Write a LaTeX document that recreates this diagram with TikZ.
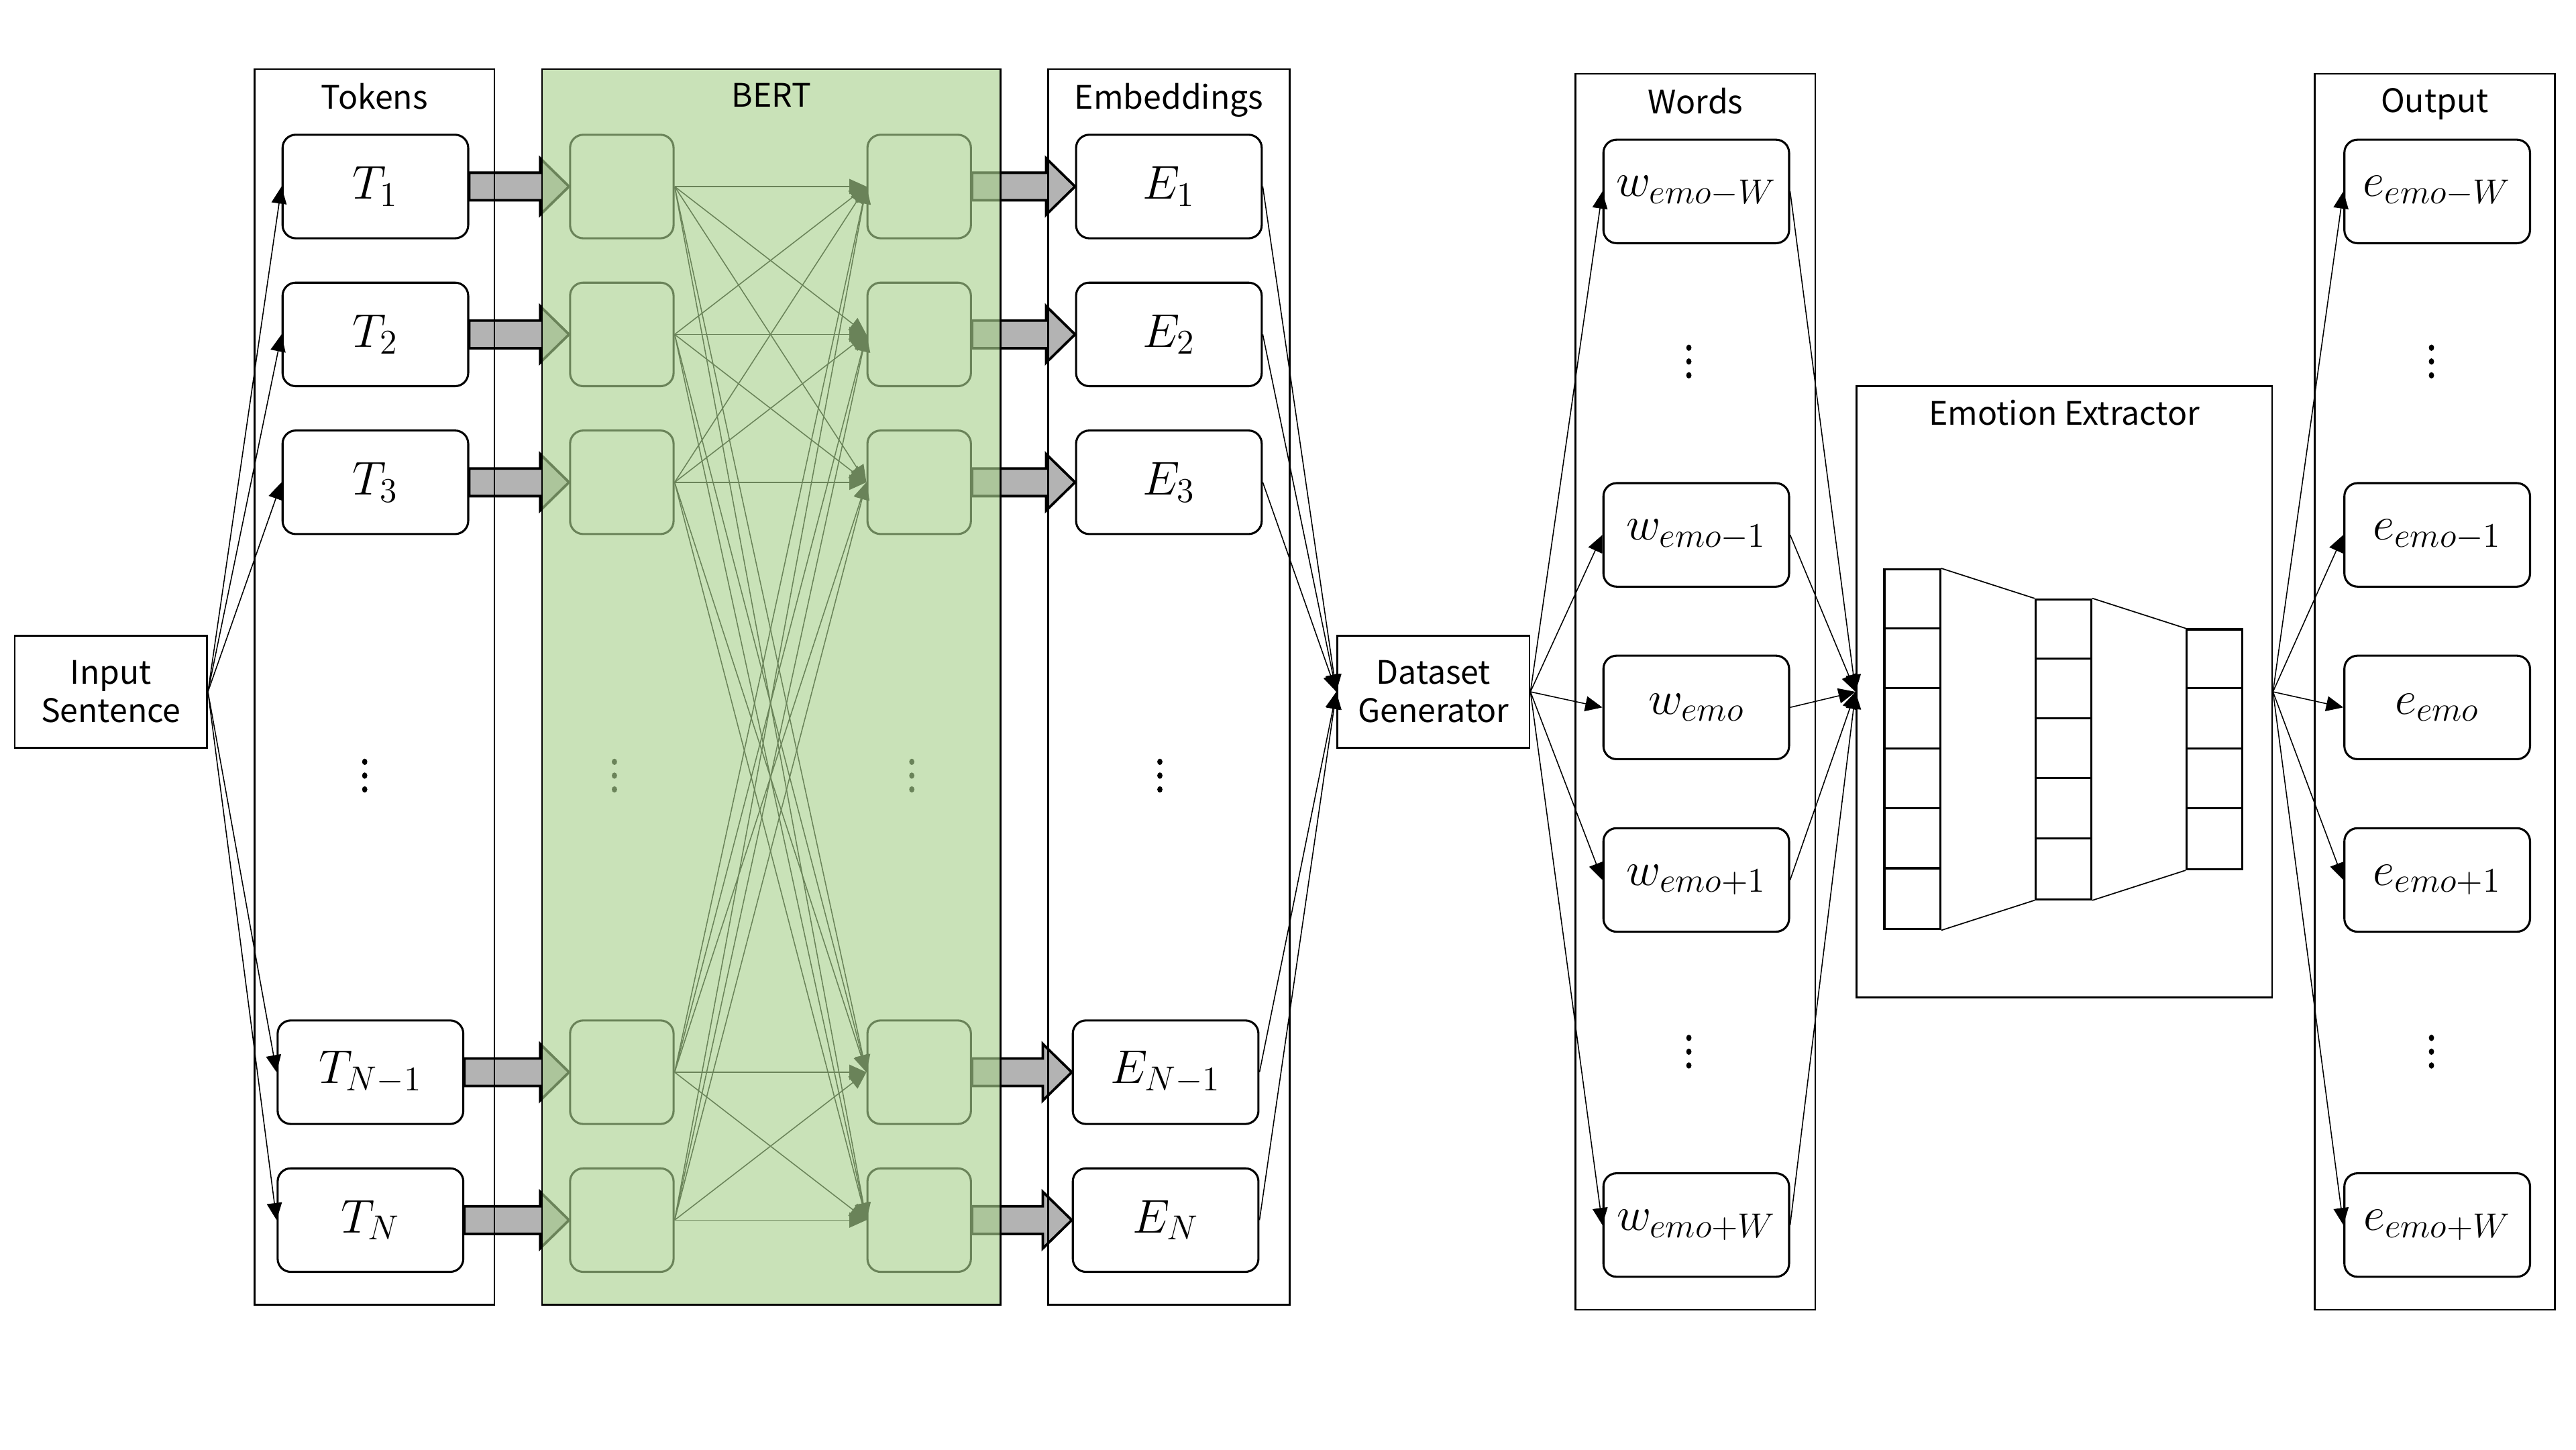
\RequirePackage{fix-cm}
\documentclass[tikz,border=0pt]{standalone}
\usepackage{fontspec}
\setmainfont{Noto Sans CJK JP}
\usetikzlibrary{arrows.meta,calc}

\DeclareMathSizes{20.5}{20.5}{15}{11}

\definecolor{bertgreen}{HTML}{A9D18E}
\definecolor{blockgray}{HTML}{B3B3B3}

% fat block arrow from #1 to #2
\newcommand{\fatarrow}[2]{%
  \draw[fatarr] let \p1=(#1.east), \p2=(#2.west) in
    (\x1,\y1+0.21cm) -- (\x2-0.44cm,\y1+0.21cm) -- (\x2-0.44cm,\y1+0.43cm)
    -- (\x2,\y1) -- (\x2-0.44cm,\y1-0.43cm) -- (\x2-0.44cm,\y1-0.21cm)
    -- (\x1,\y1-0.21cm) -- cycle;}

\begin{document}
\begin{tikzpicture}[
    box/.style={draw, line width=0.9pt, rounded corners=2mm, fill=white,
      minimum width=2.825cm, minimum height=1.575cm, font=\fontsize{20.5}{24}\selectfont},
    unit/.style={draw, line width=0.9pt, rounded corners=2mm,
      minimum width=1.575cm, minimum height=1.575cm},
    block/.style={draw, line width=0.8pt, minimum width=2.925cm, minimum height=1.7cm,
      align=center, font=\fontsize{14}{16.5}\selectfont},
    panel/.style={draw, line width=0.75pt, minimum width=3.65cm, minimum height=18.8cm},
    panellbl/.style={anchor=north, inner sep=0pt, yshift=-0.22cm, text opacity=1,
      font=\fontsize{14}{17}\selectfont},
    layer/.style={draw, line width=0.9pt, minimum width=0.85cm, inner sep=0pt},
    dotz/.style={inner sep=0pt, minimum width=0.2cm, minimum height=0.6cm,
      path picture={\foreach \d in {-0.21,0,0.21}
        \fill ($(path picture bounding box.center)+(0,\d)$) ellipse (0.04 and 0.048);}},
    link/.style={-{Triangle[length=2.6mm,width=2.3mm]}, line width=0.45pt},
    fatarr/.style={draw, line width=1.1pt, fill=blockgray}
  ]
  \useasboundingbox (0,0) rectangle (39.2,-22.05);

  % Input
  \node[block] (insent) at (1.6875,-10.525) {Input\\Sentence};

  % Tokens
  \node[box] (t1)  at (5.7125,-2.8375)  {$T_1$};
  \node[box] (t2)  at (5.7125,-5.0875)  {$T_2$};
  \node[box] (t3)  at (5.7125,-7.3375)  {$T_3$};
  \node[box] (tn1) at (5.6375,-16.3125) {$T_{N-1}$};
  \node[box] (tn)  at (5.6375,-18.5625) {$T_N$};
  \node[dotz] (tdots) at (5.55,-11.8) {};

  % BERT units
  \foreach \k/\y in {1/-2.8375,2/-5.0875,3/-7.3375,4/-16.3125,5/-18.5625} {
    \node[unit] (bl\k) at (9.4625,\y) {};
    \node[unit] (br\k) at (13.9875,\y) {};
  }
  \node[dotz] (bldots) at (9.35,-11.8) {};
  \node[dotz] (brdots) at (13.875,-11.8) {};

  % Embeddings
  \node[box] (e1)  at (17.7875,-2.8375)  {$E_1$};
  \node[box] (e2)  at (17.7875,-5.0875)  {$E_2$};
  \node[box] (e3)  at (17.7875,-7.3375)  {$E_3$};
  \node[box] (en1) at (17.7375,-16.3125) {$E_{N-1}$};
  \node[box] (en)  at (17.7375,-18.5625) {$E_N$};
  \node[dotz] (edots) at (17.65,-11.8) {};

  % Dataset generator
  \node[block] (dsgen) at (21.8125,-10.525) {Dataset\\Generator};

  % Words
  \node[box] (wmW) at (25.8125,-2.9125)  {$w_{emo-W}$};
  \node[box] (wm1) at (25.8125,-8.1375)  {$w_{emo-1}$};
  \node[box] (w0)  at (25.8125,-10.7625) {$w_{emo}$};
  \node[box] (wp1) at (25.8125,-13.3875) {$w_{emo+1}$};
  \node[box] (wpW) at (25.8125,-18.6375) {$w_{emo+W}$};
  \node[dotz] (wdots1) at (25.7,-5.5)  {};
  \node[dotz] (wdots2) at (25.7,-16.0) {};

  % Emotion extractor
  \node[panel, minimum width=6.325cm, minimum height=9.3cm,
    label={[panellbl]north:Emotion Extractor}] (ext) at (31.4125,-10.525) {};
  \node[layer, minimum height=5.475cm]  (l1) at (29.1,-11.4) {};
  \node[layer, minimum height=4.5625cm] (l2) at (31.4,-11.4) {};
  \node[layer, minimum height=3.65cm]   (l3) at (33.7,-11.4) {};
  \foreach \k in {1,...,5} \draw[line width=0.9pt] ($(l1.north west)+(0,-\k*0.9125)$) -- ++(0.85,0);
  \foreach \k in {1,...,4} \draw[line width=0.9pt] ($(l2.north west)+(0,-\k*0.9125)$) -- ++(0.85,0);
  \foreach \k in {1,...,3} \draw[line width=0.9pt] ($(l3.north west)+(0,-\k*0.9125)$) -- ++(0.85,0);
  \draw[line width=0.5pt] (l1.north east) -- (l2.north west) (l1.south east) -- (l2.south west)
    (l2.north east) -- (l3.north west) (l2.south east) -- (l3.south west);

  % Output
  \node[box] (omW) at (37.0875,-2.9125)  {$e_{emo-W}$};
  \node[box] (om1) at (37.0875,-8.1375)  {$e_{emo-1}$};
  \node[box] (o0)  at (37.0875,-10.7625) {$e_{emo}$};
  \node[box] (op1) at (37.0875,-13.3875) {$e_{emo+1}$};
  \node[box] (opW) at (37.0875,-18.6375) {$e_{emo+W}$};
  \node[dotz] (odots1) at (37.0,-5.5)  {};
  \node[dotz] (odots2) at (37.0,-16.0) {};

  % Block arrows
  \fatarrow{t1}{bl1}  \fatarrow{t2}{bl2}  \fatarrow{t3}{bl3}
  \fatarrow{tn1}{bl4} \fatarrow{tn}{bl5}
  \fatarrow{br1}{e1}  \fatarrow{br2}{e2}  \fatarrow{br3}{e3}
  \fatarrow{br4}{en1} \fatarrow{br5}{en}

  % Connections
  \foreach \i in {1,...,5}
    \foreach \j in {1,...,5}
      \draw[link] (bl\i.east) -- (br\j.west);
  \foreach \n in {t1,t2,t3,tn1,tn} \draw[link] (insent.east) -- (\n.west);
  \foreach \n in {e1,e2,e3,en1,en} \draw[link] (\n.east) -- (dsgen.west);
  \foreach \n in {wmW,wm1,w0,wp1,wpW} {
    \draw[link] (dsgen.east) -- (\n.west);
    \draw[link] (\n.east) -- (ext.west);
  }
  \foreach \n in {omW,om1,o0,op1,opW} \draw[link] (ext.east) -- (\n.west);

  % Panels
  \node[panel, label={[panellbl]north:Tokens}] (tokens) at (5.7,-10.45) {};
  \node[panel, minimum width=3.675cm, label={[panellbl]north:Embeddings}] (embed) at (17.7875,-10.45) {};
  \node[panel, label={[panellbl]north:Words}] (words) at (25.8,-10.525) {};
  \node[panel, label={[panellbl]north:Output}] (output) at (37.05,-10.525) {};
  \node[panel, minimum width=6.975cm, fill=bertgreen, fill opacity=0.63,
    label={[panellbl]north:BERT}] (bert) at (11.7375,-10.45) {};
\end{tikzpicture}
\end{document}
